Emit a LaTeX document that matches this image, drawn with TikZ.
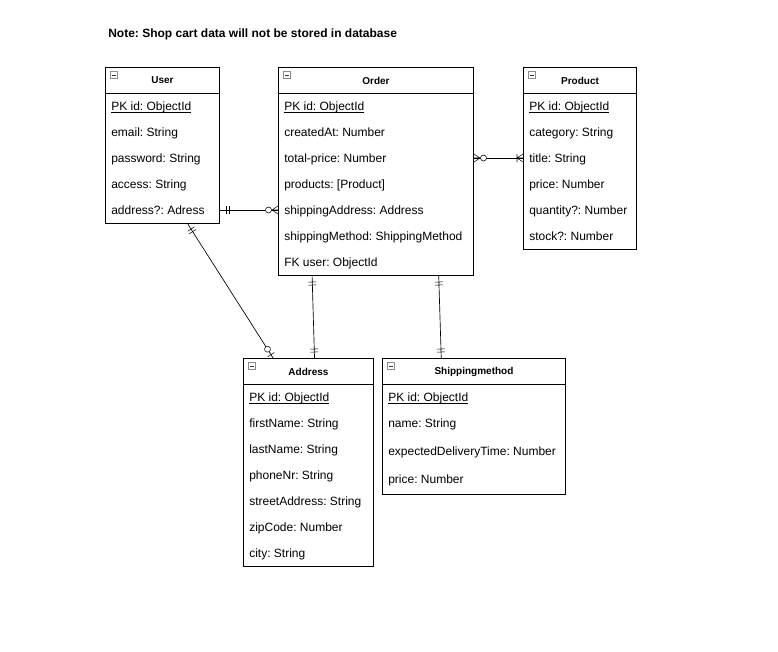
\documentclass[tikz,border=0pt]{standalone}
\usepackage{fontspec}
\setmainfont{Liberation Sans}
\usetikzlibrary{decorations.markings,calc}
\frenchspacing
\newcommand{\pkline}[1]{\setbox0\hbox{#1}\rlap{\rule[-1.3pt]{\wd0}{0.55pt}}\box0}
\tikzset{
  entity/.style={draw, line width=0.75pt, anchor=north west, inner sep=0pt, fill=white},
  etitle/.style={font=\bfseries\fontsize{7.5}{9}\selectfont, inner sep=0pt},
  attr/.style={anchor=base west, inner sep=0pt, font=\fontsize{9}{11}\selectfont},
  icon/.style={draw=black!45, fill=white, line width=0.5pt, minimum size=5.5pt, inner sep=0pt,
    path picture={\draw[line width=0.7pt, black!80] ([xshift=1.3pt]path picture bounding box.west) -- ([xshift=-1.3pt]path picture bounding box.east);}},
  conn/.style={line width=0.5pt},
  endone/.style={line width=0.5pt, decoration={markings, mark=at position 0 with {\draw (6,-4)--(6,4) (9,-4)--(9,4);}}, decorate},
  endmanyzero/.style={line width=0.5pt, decoration={markings, mark=at position 0 with {\draw (0,-4)--(6,0)--(0,4) (0,0)--(6,0); \draw[fill=white] (9.5,0) circle[radius=3];}}, decorate},
  endmanyone/.style={line width=0.5pt, decoration={markings, mark=at position 0 with {\draw (0,-4)--(6,0)--(0,4) (0,0)--(6,0) (6,-4)--(6,4);}}, decorate},
  endzeroone/.style={line width=0.5pt, decoration={markings, mark=at position 0 with {\draw (4,-4)--(4,4); \draw[fill=white] (10.5,0) circle[radius=3];}}, decorate},
}
\newcommand{\erentity}[6]{%
  \node[entity, minimum width=#4*0.75pt, minimum height=#5*0.75pt] (#1) at (#2,#3) {};
  \draw[line width=0.75pt] ($(#1.north west)+(0,26)$) -- ($(#1.north east)+(0,26)$);
  \node[etitle] (#1-t) at ($(#1.north)+(0,13.5)$) {#6};
  \node[icon] (#1-i) at ($(#1.north west)+(9,8)$) {};
}
\begin{document}
\begin{tikzpicture}[x=0.75pt,y=-0.75pt]
\useasboundingbox[fill=white] (0,0) rectangle (778,651);

\node[anchor=base west, inner sep=0pt, font=\bfseries\fontsize{9}{11}\selectfont] (note) at (108,37.5) {Note: Shop cart data will not be stored in database};

% User
\erentity{user}{105}{67}{114}{156}{User}
\node[attr] (u1) at (111,110.5) {\pkline{PK id: ObjectId}};
\node[attr] (u2) at (111,136.5) {email: String};
\node[attr] (u3) at (111,162.5) {password: String};
\node[attr] (u4) at (111,188.5) {access: String};
\node[attr] (u5) at (111,214.5) {address?: Adress};

% Order
\erentity{order}{278}{67}{195}{208}{Order}
\node[attr] (o1) at (284,110.5) {\pkline{PK id: ObjectId}};
\node[attr] (o2) at (284,136.5) {createdAt: Number};
\node[attr] (o3) at (284,162.5) {total-price: Number};
\node[attr] (o4) at (284,188.5) {products: [Product]};
\node[attr] (o5) at (284,214.5) {shippingAddress: Address};
\node[attr] (o6) at (284,240.5) {shippingMethod: ShippingMethod};
\node[attr] (o7) at (284,266.5) {FK user: ObjectId};

% Product
\erentity{prod}{523}{67}{113}{182}{Product}
\node[attr] (p1) at (529,110.5) {\pkline{PK id: ObjectId}};
\node[attr] (p2) at (529,136.5) {category: String};
\node[attr] (p3) at (529,162.5) {title: String};
\node[attr] (p4) at (529,188.5) {price: Number};
\node[attr] (p5) at (529,214.5) {quantity?: Number};
\node[attr] (p6) at (529,240.5) {stock?: Number};

% Address
\erentity{addr}{243}{358}{130}{208}{Address}
\node[attr] (a1) at (249,401.5) {\pkline{PK id: ObjectId}};
\node[attr] (a2) at (249,427.5) {firstName: String};
\node[attr] (a3) at (249,453.5) {lastName: String};
\node[attr] (a4) at (249,479.5) {phoneNr: String};
\node[attr] (a5) at (249,505.5) {streetAddress: String};
\node[attr] (a6) at (249,531.5) {zipCode: Number};
\node[attr] (a7) at (249,557.5) {city: String};

% Shippingmethod
\erentity{ship}{382}{358}{183}{136}{Shippingmethod}
\node[attr] (s1) at (388,401.5) {\pkline{PK id: ObjectId}};
\node[attr] (s2) at (388,427.5) {name: String};
\node[attr] (s3) at (388,455.5) {expectedDeliveryTime: Number};
\node[attr] (s4) at (388,483.5) {price: Number};

% coordinates for connector ends
\coordinate (uo1) at (user.east |- 0,210);
\coordinate (uo2) at (order.west |- 0,210);
\coordinate (op1) at (order.east |- 0,158);
\coordinate (op2) at (prod.west |- 0,158);
\coordinate (ua1) at ($(user.south west)!0.72!(user.south east)$);
\coordinate (ua2) at ($(addr.north west)!0.23!(addr.north east)$);
\coordinate (oa1) at ($(order.south west)!0.174!(order.south east)$);
\coordinate (oa2) at ($(addr.north west)!0.546!(addr.north east)$);
\coordinate (os1) at ($(order.south west)!0.82!(order.south east)$);
\coordinate (os2) at ($(ship.north west)!0.322!(ship.north east)$);

% User - Order
\draw[conn] (uo1) -- (uo2);
\path[endone] (uo1) -- (uo2);
\path[endmanyzero] (uo2) -- (uo1);
% Order - Product
\draw[conn] (op1) -- (op2);
\path[endmanyzero] (op1) -- (op2);
\path[endmanyone] (op2) -- (op1);
% User - Address
\draw[conn] (ua1) -- (ua2);
\path[endone] (ua1) -- (ua2);
\path[endzeroone] (ua2) -- (ua1);
% Order - Address
\draw[conn] (oa1) -- (oa2);
\path[endone] (oa1) -- (oa2);
\path[endone] (oa2) -- (oa1);
% Order - Shippingmethod
\draw[conn] (os1) -- (os2);
\path[endone] (os1) -- (os2);
\path[endone] (os2) -- (os1);
\end{tikzpicture}
\end{document}
